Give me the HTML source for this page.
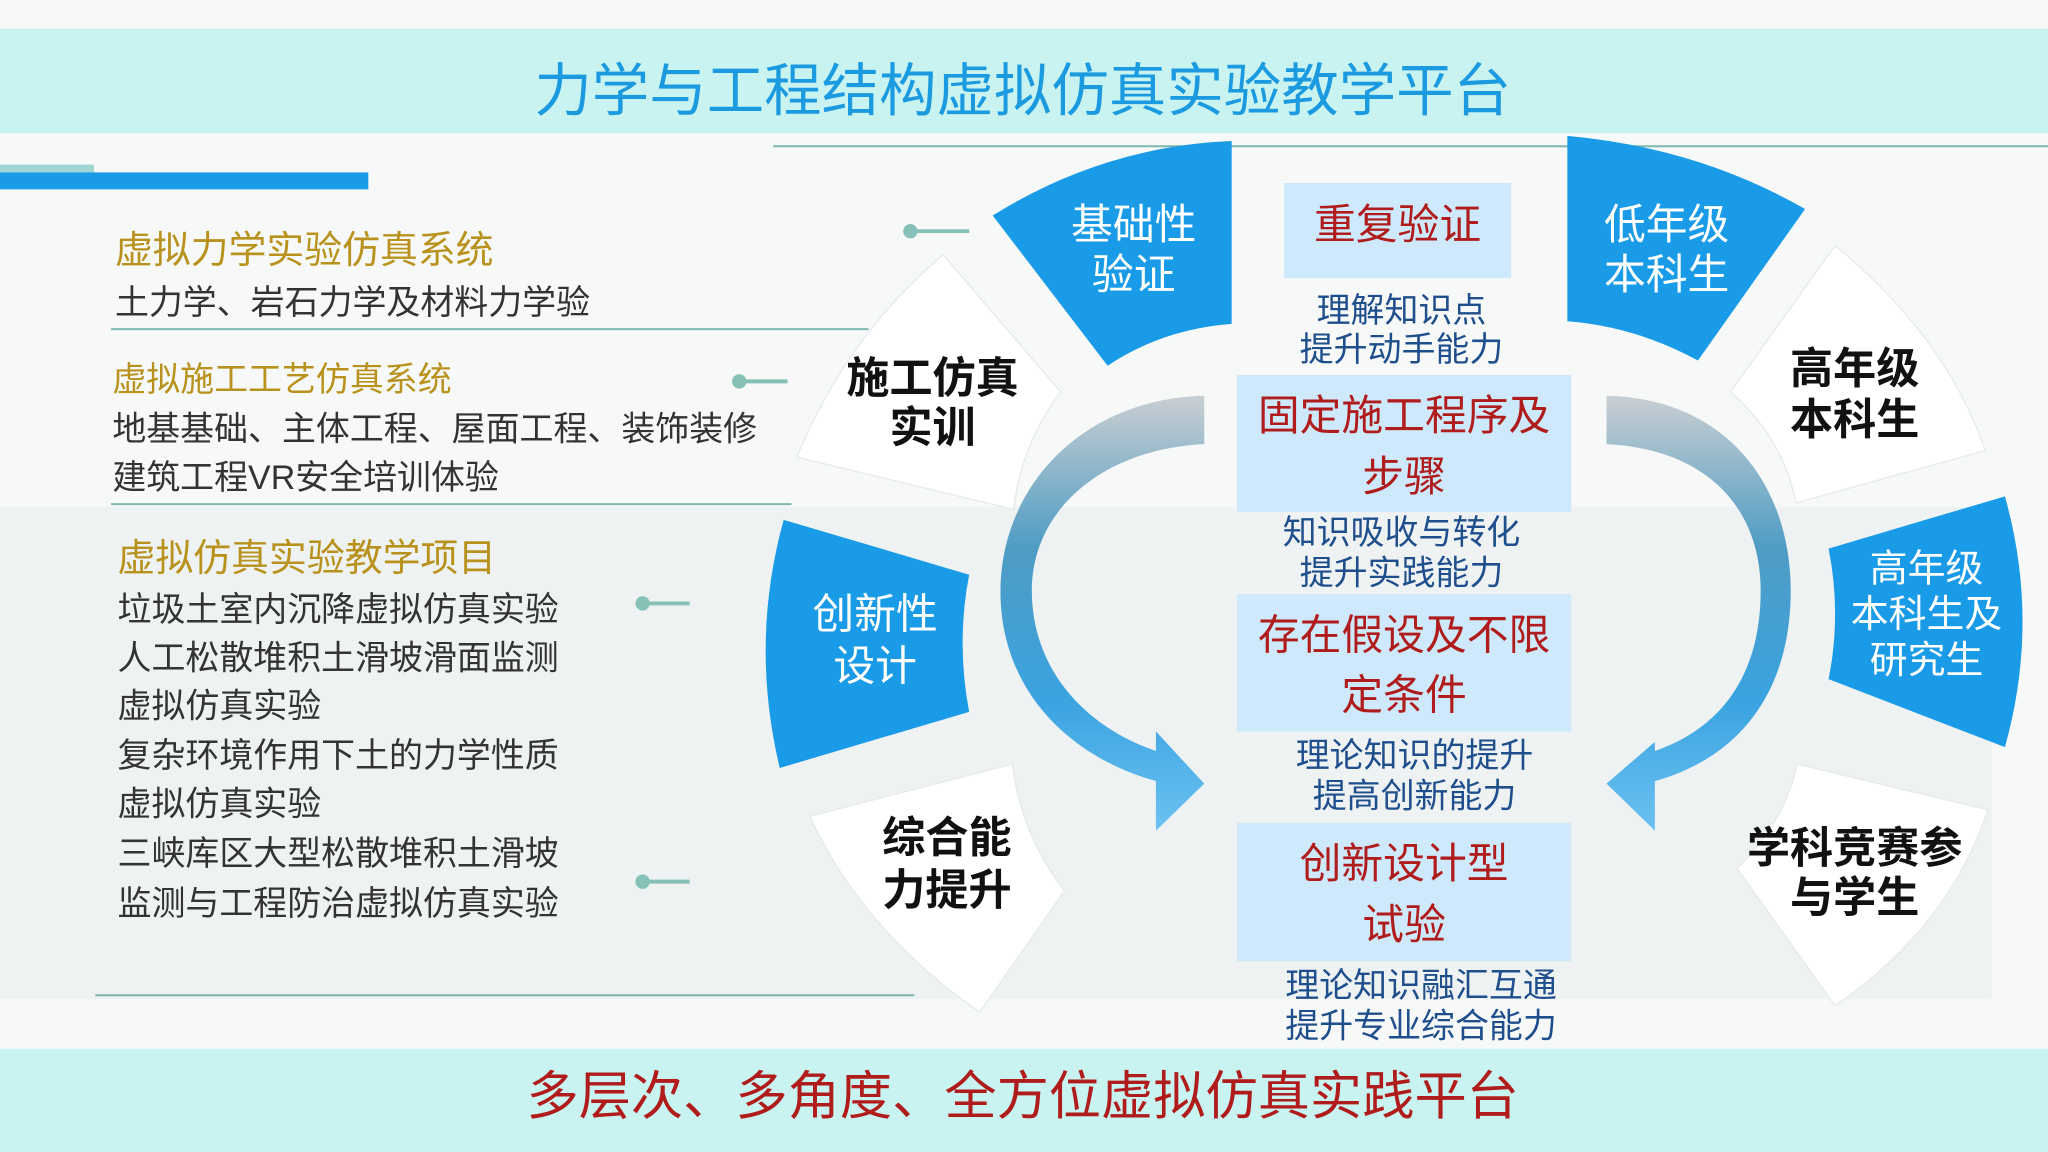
<!DOCTYPE html>
<html><head><meta charset="utf-8"><style>
html,body{margin:0;padding:0;background:#fff}
svg{display:block}
text{font-family:"Liberation Sans","Noto Sans CJK SC",sans-serif;dominant-baseline:central}
</style></head><body>
<svg width="2048" height="1152" viewBox="0 0 1568 882" xmlns="http://www.w3.org/2000/svg">
<defs>
<linearGradient id="ga" x1="0" y1="0" x2="0" y2="1">
<stop offset="0" stop-color="#c9cfd2"/><stop offset="0.35" stop-color="#4f9cc4"/><stop offset="0.7" stop-color="#3aa3e0"/><stop offset="1" stop-color="#6cc2f2"/>
</linearGradient>
</defs>
<rect width="1568" height="882" fill="#f7f9f9"/>
<rect x="0" y="388" width="1525" height="377" fill="#eef2f2"/>
<rect x="0" y="22" width="1568" height="80" fill="#c9f3f0"/>
<text x="783" y="70" text-anchor="middle" font-size="44" fill="#1b9ae0">力学与工程结构虚拟仿真实验教学平台</text>
<line x1="592" y1="112" x2="1568" y2="112" stroke="#7fb7b0" stroke-width="1.5"/>
<rect x="0" y="126" width="72" height="6" fill="#9fd6d3"/>
<rect x="0" y="132" width="282" height="13" fill="#1a9be8"/>

<g font-size="26" fill="#333">
<text x="88" y="192" font-size="29" fill="#b8921c">虚拟力学实验仿真系统</text>
<text x="88" y="232">土力学、岩石力学及材料力学验</text>
<text x="86" y="291" fill="#b8921c">虚拟施工工艺仿真系统</text>
<text x="86" y="329">地基基础、主体工程、屋面工程、装饰装修</text>
<text x="86" y="366">建筑工程VR安全培训体验</text>
<text x="90" y="428" font-size="29" fill="#b8921c">虚拟仿真实验教学项目</text>
<text x="90" y="467">垃圾土室内沉降虚拟仿真实验</text>
<text x="90" y="504">人工松散堆积土滑坡滑面监测</text>
<text x="90" y="541">虚拟仿真实验</text>
<text x="90" y="579">复杂环境作用下土的力学性质</text>
<text x="90" y="616">虚拟仿真实验</text>
<text x="90" y="654">三峡库区大型松散堆积土滑坡</text>
<text x="90" y="692">监测与工程防治虚拟仿真实验</text>
</g>
<g stroke="#7fb7b0" stroke-width="1.5">
<line x1="85" y1="252" x2="665" y2="252"/>
<line x1="85" y1="386" x2="606" y2="386"/>
<line x1="73" y1="762" x2="700" y2="762"/>
</g>
<g stroke="#86c0b6" stroke-width="3" fill="#86c0b6">
<line x1="697" y1="177" x2="742" y2="177"/><circle cx="697" cy="177" r="4"/>
<line x1="566" y1="292" x2="603" y2="292"/><circle cx="566" cy="292" r="4"/>
<line x1="492" y1="462" x2="528" y2="462"/><circle cx="492" cy="462" r="4"/>
<line x1="492" y1="675" x2="528" y2="675"/><circle cx="492" cy="675" r="4"/>
</g>

<g fill="#ffffff" stroke="#e6eaea" stroke-width="1">
<path d="M722,195 L812,300 Q782,340 776,390 L610,350 Q648,258 722,195 Z"/>
<path d="M620,625 L775,585 Q782,640 815,682 L750,775 Q660,712 620,625 Z"/>
<path d="M1405,188 Q1490,258 1520,345 L1375,385 Q1365,335 1325,300 Z"/>
<path d="M1522,620 Q1492,710 1405,770 L1330,665 Q1366,630 1376,585 Z"/>
</g>
<g font-size="33" font-weight="bold" fill="#111" text-anchor="middle">
<text x="714" y="290">施工仿真</text><text x="714" y="328">实训</text>
<text x="725" y="642">综合能</text><text x="725" y="682">力提升</text>
<text x="1420" y="283">高年级</text><text x="1420" y="322">本科生</text>
<text x="1420" y="650">学科竞赛参</text><text x="1420" y="688">与学生</text>
</g>

<g fill="#1a9be8">
<path d="M760,165 Q845,112 943,108 L943,248 Q890,252 848,280 Z"/>
<path d="M1200,104 Q1300,113 1382,160 L1300,276 Q1252,250 1200,246 Z"/>
<path d="M600,398 L742,440 Q732,492 742,545 L597,588 Q574,492 600,398 Z"/>
<path d="M1535,380 Q1562,476 1535,572 L1400,520 Q1410,470 1400,420 Z"/>
</g>
<g font-size="32" fill="#fff" text-anchor="middle">
<text x="868" y="172">基础性</text><text x="868" y="210">验证</text>
<text x="1276" y="172">低年级</text><text x="1276" y="210">本科生</text>
<text x="670" y="470">创新性</text><text x="670" y="510">设计</text>
<text x="1475" y="436" font-size="29">高年级</text><text x="1475" y="471" font-size="29">本科生及</text><text x="1475" y="506" font-size="29">研究生</text>
</g>

<path fill="url(#ga)" d="M922,303 C830,305 765,372 766,455 C767,530 820,580 885,598 L885,636 L922,600 L885,560 L885,575 C830,556 790,512 790,452 C790,392 842,344 922,340 Z"/>
<path fill="url(#ga)" d="M1230,303 C1322,305 1372,372 1371,455 C1370,530 1332,580 1267,598 L1267,636 L1230,600 L1267,568 L1267,575 C1322,556 1348,512 1348,452 C1348,392 1310,344 1230,340 Z"/>

<g fill="#cde9fb">
<rect x="983" y="140" width="174" height="73"/>
<rect x="947" y="287" width="256" height="105"/>
<rect x="947" y="455" width="256" height="105"/>
<rect x="947" y="630" width="256" height="106"/>
</g>
<g font-size="32" fill="#b01c1c" text-anchor="middle">
<text x="1070" y="172">重复验证</text>
<text x="1075" y="318">固定施工程序及</text><text x="1075" y="365">步骤</text>
<text x="1075" y="486">存在假设及不限</text><text x="1075" y="532">定条件</text>
<text x="1075" y="661">创新设计型</text><text x="1075" y="708">试验</text>
</g>
<g font-size="26" fill="#1f4e8c" text-anchor="middle">
<text x="1073" y="238">理解知识点</text><text x="1073" y="268">提升动手能力</text>
<text x="1073" y="408">知识吸收与转化</text><text x="1073" y="439">提升实践能力</text>
<text x="1083" y="579">理论知识的提升</text><text x="1083" y="610">提高创新能力</text>
<text x="1088" y="755">理论知识融汇互通</text><text x="1088" y="786">提升专业综合能力</text>
</g>

<rect x="0" y="803" width="1568" height="79" fill="#c9f3f0"/>
<text x="783" y="840" text-anchor="middle" font-size="40" fill="#b01c1c">多层次、多角度、全方位虚拟仿真实践平台</text>
</svg>
</body></html>
